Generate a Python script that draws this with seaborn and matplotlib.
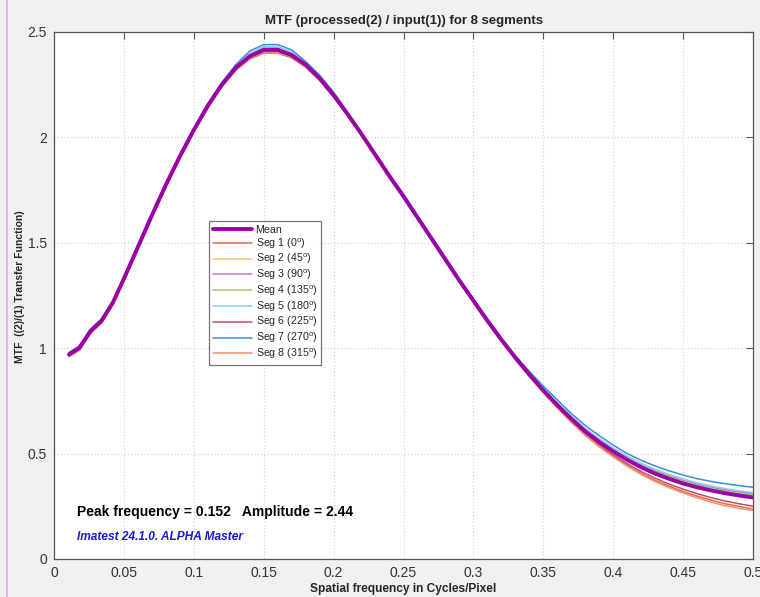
import matplotlib
import matplotlib.pyplot as plt
import pandas as pd
import seaborn as sns
from matplotlib.lines import Line2D

matplotlib.use("Agg")

# Frequência espacial (ciclos/pixel)
FREQ = [0.0107, 0.018, 0.026, 0.034, 0.042,
        0.05, 0.06, 0.07, 0.08, 0.09, 0.10, 0.11, 0.12, 0.13, 0.14,
        0.15, 0.16, 0.17, 0.18, 0.19, 0.20, 0.21, 0.22, 0.23, 0.24,
        0.25, 0.26, 0.27, 0.28, 0.29, 0.30, 0.31, 0.32, 0.33, 0.34,
        0.35, 0.36, 0.37, 0.38, 0.39, 0.40, 0.41, 0.42, 0.43, 0.44,
        0.45, 0.46, 0.47, 0.48, 0.49, 0.50]

MEAN = [0.97, 1.00, 1.08, 1.13, 1.215,
        1.33, 1.48, 1.63, 1.775, 1.91, 2.035, 2.15, 2.25, 2.33, 2.385,
        2.415, 2.415, 2.39, 2.345, 2.28, 2.20, 2.11, 2.015, 1.915, 1.815,
        1.72, 1.62, 1.52, 1.42, 1.32, 1.225, 1.13, 1.04, 0.955, 0.875,
        0.80, 0.73, 0.665, 0.605, 0.555, 0.51, 0.47, 0.435, 0.405, 0.38,
        0.358, 0.34, 0.325, 0.312, 0.301, 0.292]

SEG1 = [0.96, 0.99, 1.07, 1.12, 1.205,
        1.32, 1.47, 1.62, 1.765, 1.90, 2.025, 2.14, 2.24, 2.318, 2.372,
        2.40, 2.40, 2.377, 2.333, 2.27, 2.192, 2.103, 2.009, 1.91, 1.81,
        1.715, 1.615, 1.515, 1.415, 1.315, 1.22, 1.125, 1.034, 0.948, 0.867,
        0.79, 0.718, 0.651, 0.589, 0.536, 0.488, 0.444, 0.406, 0.373, 0.345,
        0.32, 0.298, 0.279, 0.262, 0.249, 0.237]

SEG2 = [0.97, 1.00, 1.08, 1.13, 1.215,
        1.33, 1.48, 1.63, 1.775, 1.91, 2.035, 2.15, 2.25, 2.335, 2.39,
        2.42, 2.42, 2.395, 2.35, 2.283, 2.203, 2.112, 2.017, 1.917, 1.817,
        1.722, 1.622, 1.522, 1.422, 1.322, 1.227, 1.132, 1.042, 0.957, 0.878,
        0.804, 0.735, 0.67, 0.611, 0.562, 0.518, 0.479, 0.445, 0.416, 0.392,
        0.371, 0.353, 0.338, 0.325, 0.314, 0.305]

SEG3 = [0.97, 1.005, 1.085, 1.135, 1.22,
        1.335, 1.485, 1.635, 1.78, 1.915, 2.04, 2.155, 2.255, 2.34, 2.395,
        2.425, 2.425, 2.40, 2.353, 2.286, 2.205, 2.114, 2.018, 1.918, 1.818,
        1.722, 1.622, 1.522, 1.422, 1.322, 1.227, 1.132, 1.042, 0.957, 0.878,
        0.805, 0.736, 0.672, 0.613, 0.564, 0.52, 0.481, 0.447, 0.418, 0.394,
        0.373, 0.355, 0.34, 0.328, 0.318, 0.31]

SEG4 = [0.97, 1.00, 1.08, 1.13, 1.215,
        1.33, 1.48, 1.63, 1.775, 1.91, 2.035, 2.15, 2.25, 2.33, 2.385,
        2.415, 2.415, 2.39, 2.345, 2.28, 2.20, 2.11, 2.015, 1.915, 1.815,
        1.72, 1.62, 1.52, 1.42, 1.32, 1.225, 1.13, 1.04, 0.955, 0.876,
        0.802, 0.733, 0.668, 0.609, 0.56, 0.516, 0.477, 0.443, 0.413, 0.389,
        0.368, 0.35, 0.335, 0.322, 0.31, 0.30]

SEG5 = [0.975, 1.005, 1.085, 1.135, 1.22,
        1.335, 1.485, 1.635, 1.78, 1.915, 2.04, 2.155, 2.255, 2.34, 2.40,
        2.43, 2.43, 2.405, 2.355, 2.29, 2.21, 2.115, 2.02, 1.92, 1.82,
        1.725, 1.625, 1.525, 1.425, 1.325, 1.23, 1.135, 1.045, 0.96, 0.882,
        0.81, 0.742, 0.678, 0.62, 0.571, 0.527, 0.488, 0.454, 0.425, 0.401,
        0.38, 0.362, 0.347, 0.334, 0.323, 0.315]

SEG6 = [0.965, 0.995, 1.075, 1.125, 1.21,
        1.325, 1.475, 1.625, 1.77, 1.905, 2.03, 2.145, 2.245, 2.325, 2.378,
        2.408, 2.408, 2.384, 2.34, 2.276, 2.197, 2.107, 2.012, 1.912, 1.812,
        1.717, 1.617, 1.517, 1.417, 1.317, 1.222, 1.127, 1.037, 0.951, 0.87,
        0.794, 0.723, 0.657, 0.596, 0.543, 0.495, 0.452, 0.415, 0.383, 0.355,
        0.331, 0.31, 0.291, 0.275, 0.262, 0.25]

SEG7 = [0.98, 1.01, 1.09, 1.14, 1.225,
        1.34, 1.49, 1.64, 1.785, 1.92, 2.045, 2.16, 2.26, 2.345, 2.41,
        2.44, 2.44, 2.415, 2.36, 2.295, 2.215, 2.12, 2.025, 1.925, 1.825,
        1.73, 1.63, 1.53, 1.43, 1.33, 1.235, 1.14, 1.05, 0.965, 0.89,
        0.82, 0.755, 0.69, 0.633, 0.585, 0.54, 0.50, 0.468, 0.441, 0.418,
        0.398, 0.381, 0.368, 0.357, 0.348, 0.34]

SEG8 = [0.96, 0.99, 1.07, 1.12, 1.205,
        1.32, 1.47, 1.62, 1.765, 1.90, 2.025, 2.14, 2.24, 2.32, 2.375,
        2.405, 2.405, 2.38, 2.335, 2.272, 2.193, 2.104, 2.01, 1.91, 1.81,
        1.715, 1.615, 1.515, 1.415, 1.315, 1.22, 1.125, 1.034, 0.948, 0.866,
        0.788, 0.716, 0.648, 0.586, 0.532, 0.484, 0.44, 0.401, 0.367, 0.338,
        0.313, 0.29, 0.27, 0.253, 0.24, 0.23]

SEGMENTOS = [
    ("Seg 1 (0$^{\\mathrm{o}}$)", SEG1, "#E2683F"),
    ("Seg 2 (45$^{\\mathrm{o}}$)", SEG2, "#F5C66E"),
    ("Seg 3 (90$^{\\mathrm{o}}$)", SEG3, "#B57FC8"),
    ("Seg 4 (135$^{\\mathrm{o}}$)", SEG4, "#A3CB70"),
    ("Seg 5 (180$^{\\mathrm{o}}$)", SEG5, "#86D0F2"),
    ("Seg 6 (225$^{\\mathrm{o}}$)", SEG6, "#C44A66"),
    ("Seg 7 (270$^{\\mathrm{o}}$)", SEG7, "#3F8CCE"),
    ("Seg 8 (315$^{\\mathrm{o}}$)", SEG8, "#EE9470"),
]
COR_MEDIA = "#9B00A6"

sns.set_style("white")
plt.rcParams["font.family"] = ["Liberation Sans", "DejaVu Sans"]
plt.rcParams["mathtext.fontset"] = "custom"
plt.rcParams["mathtext.rm"] = "Liberation Sans"

fig = plt.figure(figsize=(7.6, 5.97), dpi=100)
fig.patch.set_facecolor("#F0F0F0")
ax = fig.add_axes([0.0711, 0.0637, 0.9197, 0.8827])
ax.set_facecolor("white")

for nome, valores, cor in SEGMENTOS:
    sns.lineplot(x=FREQ, y=valores, ax=ax, color=cor, linewidth=1.1, label=nome)

df_media = pd.DataFrame({"freq": FREQ, "mtf": MEAN})
sns.lineplot(data=df_media, x="freq", y="mtf", ax=ax, color=COR_MEDIA,
             linewidth=2.8, label="Mean")

ax.set_xlim(0, 0.5)
ax.set_ylim(0, 2.5)
ax.set_xticks([0, 0.05, 0.1, 0.15, 0.2, 0.25, 0.3, 0.35, 0.4, 0.45, 0.5])
ax.set_xticklabels(["0", "0.05", "0.1", "0.15", "0.2", "0.25", "0.3",
                    "0.35", "0.4", "0.45", "0.5"])
ax.set_yticks([0, 0.5, 1, 1.5, 2, 2.5])
ax.set_yticklabels(["0", "0.5", "1", "1.5", "2", "2.5"])
ax.tick_params(direction="in", length=5, width=0.8, color="#555555",
               labelsize=10, labelcolor="#333333", top=True, right=True, pad=5)
ax.grid(True, color="#CFCFCF", linestyle=(0, (1, 2)), linewidth=0.8)
for s in ax.spines.values():
    s.set_color("#555555")
    s.set_linewidth(0.9)

ax.set_title("MTF (processed(2) / input(1)) for 8 segments",
             fontsize=9.5, fontweight="bold", pad=6)
ax.set_xlabel("Spatial frequency in Cycles/Pixel", fontsize=8.6,
              fontweight="bold", labelpad=2)
ax.set_ylabel("MTF  ((2)/(1) Transfer Function)", fontsize=7.5,
              fontweight="bold")
ax.yaxis.set_label_coords(-0.041, 0.516)

h, l = ax.get_legend_handles_labels()
ordem = [len(h) - 1] + list(range(len(h) - 1))
leg = ax.legend([h[i] for i in ordem], [l[i] for i in ordem],
                loc="upper left", bbox_to_anchor=(0.2217, 0.6414),
                fontsize=7.7, frameon=True, fancybox=False, handlelength=3.7,
                handletextpad=0.3, labelspacing=0.13, borderpad=0.35,
                borderaxespad=0)
leg.get_frame().set_edgecolor("#555555")
leg.get_frame().set_linewidth(0.9)

ax.text(0.0165, 0.205, "Peak frequency = 0.152   Amplitude = 2.44",
        fontsize=10, fontweight="bold", color="black")
ax.text(0.0165, 0.09, "Imatest 24.1.0. ALPHA Master", fontsize=8.6,
        fontweight="bold", fontstyle="italic", color="#1A1AD0")

fig.add_artist(Line2D([0.0092, 0.0092], [0, 1], color="#D9A6E3", linewidth=1.2))

fig.savefig("out.png", dpi=100, facecolor=fig.get_facecolor())
plt.close(fig)
